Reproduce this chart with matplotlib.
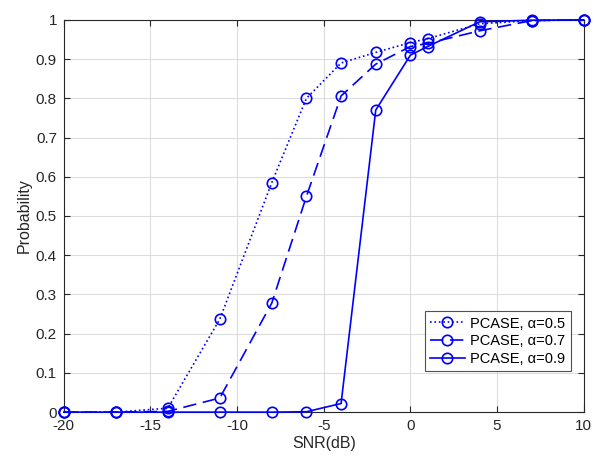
import numpy as np
import matplotlib
matplotlib.use("Agg")
import matplotlib.pyplot as plt

plt.rcParams['font.family'] = ['Liberation Sans', 'DejaVu Sans']
plt.rcParams['axes.unicode_minus'] = False

snr = [-20, -17, -14, -11, -8, -6, -4, -2, 0, 1, 4, 7, 10]
p_a05 = [0.0, 0.0, 0.010, 0.237, 0.585, 0.800, 0.890, 0.917, 0.942, 0.952, 0.990, 0.998, 1.0]
p_a07 = [0.0, 0.0, 0.002, 0.036, 0.278, 0.550, 0.806, 0.887, 0.932, 0.940, 0.972, 0.998, 1.0]
p_a09 = [0.0, 0.0, 0.0, 0.0, 0.0, 0.001, 0.022, 0.770, 0.910, 0.932, 0.995, 0.999, 1.0]

labels = ['PCASE, α=0.5', 'PCASE, α=0.7', 'PCASE, α=0.9']
styles = [':', (0, (8, 4)), '-']

fig = plt.figure(figsize=(6.08, 4.61), dpi=100)
ax = fig.add_axes([0.105, 0.106, 0.855, 0.851])

for y, ls, lab in zip([p_a05, p_a07, p_a09], styles, labels):
    ax.plot(snr, y, color='#0000ff', linestyle=ls, linewidth=1.2,
            marker='o', markersize=7.5, markerfacecolor='none',
            markeredgewidth=1.2, label=lab, clip_on=False, zorder=3)

ax.set_xlim(-20, 10)
ax.set_ylim(0, 1)
ax.set_xticks(np.arange(-20, 11, 5))
ax.set_yticks(np.arange(0, 1.01, 0.1))
ax.set_yticklabels(['0', '0.1', '0.2', '0.3', '0.4', '0.5', '0.6', '0.7', '0.8', '0.9', '1'])
ax.grid(True, color='#dcdcdc', linewidth=0.8)
ax.set_axisbelow(True)
ax.tick_params(direction='in', top=True, right=True, labelsize=11,
               colors='#262626', length=4, pad=5)
for sp in ax.spines.values():
    sp.set_color('#262626')
    sp.set_linewidth(0.8)

ax.set_xlabel('SNR(dB)', fontsize=11.5, color='#262626', labelpad=2)
ax.set_ylabel('Probability', fontsize=11.5, color='#262626', labelpad=3)

leg = ax.legend(loc='lower right', bbox_to_anchor=(0.975, 0.105), fontsize=10.5,
                frameon=True, fancybox=False, edgecolor='#262626',
                borderpad=0.35, labelspacing=0.25, handlelength=2.4,
                handletextpad=0.4, borderaxespad=0)
leg.get_frame().set_linewidth(0.8)

fig.savefig('out.png', dpi=100)
